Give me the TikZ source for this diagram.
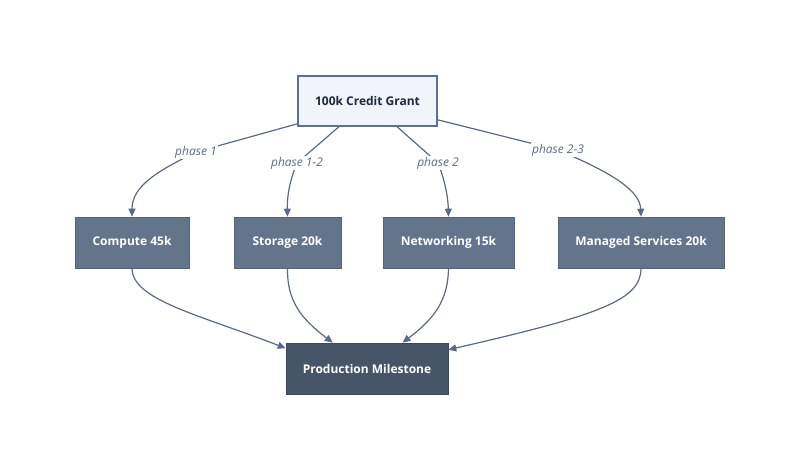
\documentclass[tikz,border=0pt]{standalone}
\usepackage{fontspec}
\setmainfont{Open Sans}
\usetikzlibrary{arrows.meta}
\definecolor{edgec}{HTML}{5B6A82}
\definecolor{midfill}{HTML}{64748B}
\definecolor{prodfill}{HTML}{475569}
\definecolor{topfill}{HTML}{F1F4FA}
\definecolor{topdraw}{HTML}{5F6E8A}
\definecolor{toptext}{HTML}{1E293B}
\definecolor{lblc}{HTML}{5E6A7E}
\tikzset{
  topbox/.style={draw=topdraw, line width=1.3pt, fill=topfill, text=toptext,
    minimum width=139pt, minimum height=50pt, inner sep=0pt,
    font=\fontsize{12}{14}\selectfont\bfseries},
  midbox/.style={draw=midfill!85!black, line width=0.6pt, fill=midfill, text=white,
    minimum height=51pt, inner sep=0pt, font=\fontsize{12}{14}\selectfont\bfseries},
  prodbox/.style={draw=prodfill!85!black, line width=0.6pt, fill=prodfill, text=white,
    minimum width=162pt, minimum height=51pt, inner sep=0pt,
    font=\fontsize{12}{14}\selectfont\bfseries},
  lbl/.style={fill=white, text=lblc, inner sep=1.5pt,
    font=\fontsize{12}{14}\selectfont\itshape},
  edge/.style={draw=edgec, line width=1.2pt,
    -{Triangle[length=8pt,width=7pt]}},
}
\begin{document}
\begin{tikzpicture}[x=1pt,y=-1pt]
\path[use as bounding box] (0,0) rectangle (800,470);

\node[topbox] (grant) at (367.5,101) {100k Credit Grant};
\node[midbox, minimum width=114pt] (compute) at (132,242.5) {Compute 45k};
\node[midbox, minimum width=107pt] (storage) at (287.5,242.5) {Storage 20k};
\node[midbox, minimum width=131pt] (network) at (448.5,242.5) {Networking 15k};
\node[midbox, minimum width=166pt] (managed) at (641,242.5) {Managed Services 20k};
\node[prodbox] (prod) at (367,368.5) {Production Milestone};

\coordinate (l1) at (196,152);
\coordinate (l2) at (297,163);
\coordinate (l3) at (438,163);
\coordinate (l4) at (558,150);

\draw[edge] (grant.198) -- (l1) .. controls (160,170) and (132,185) .. (compute.north);
\draw[edge] (grant.222) -- (l2) .. controls (290,180) and (287,195) .. (storage.north);
\draw[edge] (grant.319) -- (l3) .. controls (444,178) and (448,195) .. (network.north);
\draw[edge] (grant.345) -- (l4) .. controls (610,172) and (640,190) .. (managed.north);

\node[lbl] (t1) at (l1) {phase 1};
\node[lbl] (t2) at (l2) {phase 1-2};
\node[lbl] (t3) at (l3) {phase 2};
\node[lbl] (t4) at (l4) {phase 2-3};

\draw[edge] (compute.south) .. controls (132,300) and (200,315) .. (prod.166);
\draw[edge] (storage.south) .. controls (287,300) and (300,318) .. (prod.143);
\draw[edge] (network.south) .. controls (448,300) and (435,318) .. (prod.36);
\draw[edge] (managed.south) .. controls (641,300) and (600,315) .. (prod.13);
\end{tikzpicture}
\end{document}
